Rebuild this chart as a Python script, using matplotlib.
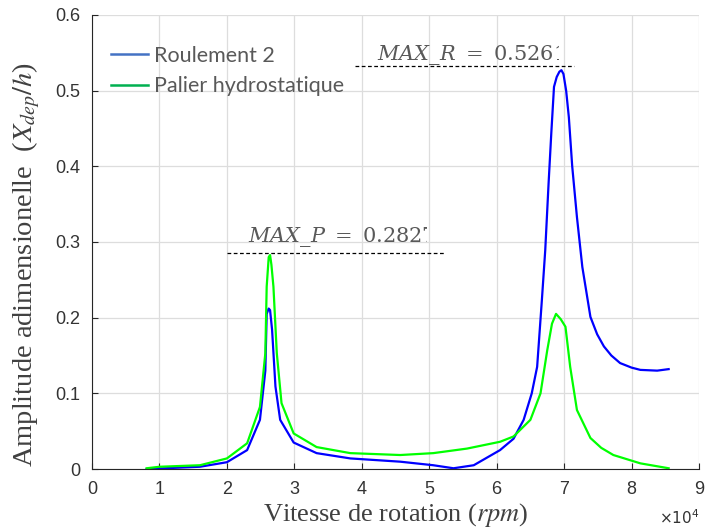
import matplotlib
matplotlib.use("Agg")
import matplotlib.pyplot as plt
from matplotlib.lines import Line2D
from matplotlib.transforms import Bbox, TransformedBbox

# Vitesse de rotation (x 1e4 rpm) et amplitude adimensionnelle
rpm_roulement = [0.81, 1.6, 2.0, 2.3, 2.49, 2.57, 2.59, 2.62, 2.64, 2.67, 2.72, 2.79,
                 2.99, 3.33, 3.83, 4.57, 5.06, 5.36, 5.66, 6.05, 6.25, 6.40, 6.52,
                 6.60, 6.67, 6.72, 6.77, 6.81, 6.85, 6.89, 6.93, 6.96, 6.99, 7.03,
                 7.07, 7.12, 7.19, 7.27, 7.39, 7.49, 7.59, 7.70, 7.83, 8.00, 8.13,
                 8.38, 8.55]
amp_roulement = [0.0, 0.003, 0.009, 0.025, 0.065, 0.13, 0.205, 0.212, 0.21, 0.184,
                 0.109, 0.065, 0.035, 0.021, 0.014, 0.0097, 0.005, 0.001, 0.005,
                 0.025, 0.04, 0.065, 0.10, 0.135, 0.223, 0.289, 0.378, 0.444, 0.505,
                 0.518, 0.525, 0.527, 0.522, 0.500, 0.465, 0.40, 0.333, 0.267, 0.201,
                 0.178, 0.162, 0.150, 0.140, 0.134, 0.131, 0.130, 0.132]

rpm_palier = [0.81, 1.0, 1.6, 2.0, 2.3, 2.49, 2.57, 2.59, 2.62, 2.64, 2.66, 2.69,
              2.74, 2.81, 2.99, 3.33, 3.83, 4.57, 5.06, 5.56, 6.05, 6.25, 6.50, 6.65,
              6.75, 6.82, 6.88, 6.95, 7.02, 7.09, 7.19, 7.39, 7.55, 7.73, 8.13, 8.55]
amp_palier = [0.001, 0.003, 0.005, 0.014, 0.034, 0.082, 0.153, 0.241, 0.28, 0.2827,
              0.27, 0.241, 0.153, 0.087, 0.047, 0.029, 0.021, 0.0185, 0.021, 0.027,
              0.036, 0.043, 0.065, 0.10, 0.157, 0.192, 0.205, 0.198, 0.188, 0.135,
              0.078, 0.041, 0.028, 0.0185, 0.0075, 0.001]

# annotations des maxima (valeur, hauteur du trait, étendue du trait)
max_r_label = r"$MAX\_R\ =\ 0.5261$"
max_p_label = r"$MAX\_P\ =\ 0.2827$"
max_r_line = 0.532
max_p_line = 0.285
max_r_span = (3.9, 7.14)
max_p_span = (2.0, 5.24)

x_ticks = list(range(0, 10))
y_ticks = [0, 0.1, 0.2, 0.3, 0.4, 0.5, 0.6]
y_ticklabels = ["0", "0.1", "0.2", "0.3", "0.4", "0.5", "0.6"]

fig = plt.figure(figsize=(7.05, 5.28), dpi=100)
ax = fig.add_axes([0.1305, 0.1117, 0.861, 0.86])

ax.plot(rpm_roulement, amp_roulement, color="#0000ff", lw=1.6)
ax.plot(rpm_palier, amp_palier, color="#00ff00", lw=1.6)

# lignes de max en pointillés
ax.plot(max_r_span, [max_r_line, max_r_line], color="black", lw=0.9, ls=(0, (3, 2)))
ax.plot(max_p_span, [max_p_line, max_p_line], color="black", lw=0.9, ls=(0, (3, 2)))

# textes coupés à droite comme sur l'original
t_r = ax.text(4.23, 0.540, max_r_label, color="#595959", fontsize=15,
              math_fontfamily="dejavuserif", va="baseline", ha="left")
t_r.set_clip_box(TransformedBbox(Bbox([[3.5, 0.45], [6.93, 0.6]]), ax.transData))
t_r.set_clip_on(True)
t_p = ax.text(2.31, 0.300, max_p_label, color="#595959", fontsize=15,
              math_fontfamily="dejavuserif", va="baseline", ha="left")
t_p.set_clip_box(TransformedBbox(Bbox([[2.0, 0.25], [4.97, 0.4]]), ax.transData))
t_p.set_clip_on(True)

ax.set_xlim(0, 9)
ax.set_ylim(0, 0.6)
ax.set_xticks(x_ticks)
ax.set_yticks(y_ticks)
ax.set_yticklabels(y_ticklabels)
ax.tick_params(direction="in", length=4, labelsize=13, colors="#262626",
               labelcolor="#333333", top=False, right=False, pad=8.5)
for lab in ax.get_xticklabels() + ax.get_yticklabels():
    lab.set_fontfamily("Liberation Sans")
ax.grid(True, color="#dddddd", lw=0.9)
ax.set_axisbelow(True)
ax.spines["top"].set_visible(False)
ax.spines["right"].set_visible(False)
ax.spines["left"].set_color("#262626")
ax.spines["bottom"].set_color("#262626")

ax.set_xlabel(r"Vitesse de rotation ($rpm$)", fontsize=19, family="Liberation Serif",
              color="#404040", math_fontfamily="stix", labelpad=2)
ax.set_ylabel(r"Amplitude adimensionelle  ($X_{dep}/h$)", fontsize=20.5,
              family="Liberation Serif", color="#404040", math_fontfamily="stix")
ax.yaxis.set_label_coords(-0.083, 0.45)
fig.text(0.935, 0.02, r"$\times10^4$", fontsize=11, color="#333333",
         math_fontfamily="dejavusans", va="center")

# légende superposée
handles = [Line2D([], [], color="#4472c4", lw=1.8),
           Line2D([], [], color="#00b050", lw=1.8)]
leg = ax.legend(handles, ["Roulement 2", "Palier hydrostatique"], loc="upper left",
                bbox_to_anchor=(0.0, 0.975), frameon=False, handlelength=1.72,
                handletextpad=0.25, labelspacing=0.5,
                prop={"family": "Lato", "size": 15.5})
for t in leg.get_texts():
    t.set_color("#595959")

fig.savefig("out.png", dpi=100)
